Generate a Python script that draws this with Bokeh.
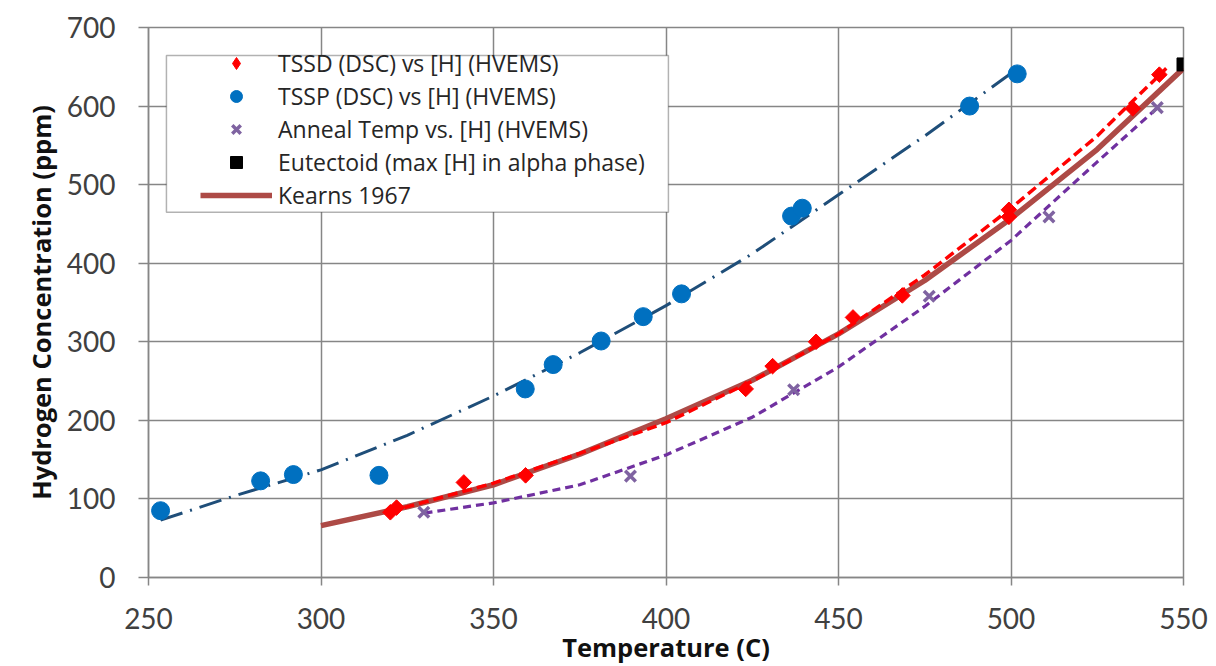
import numpy as np
from bokeh.plotting import figure
from bokeh.models import Legend, LegendItem, BoxAnnotation, FixedTicker, Range1d
from bokeh.embed import file_html
from bokeh.resources import INLINE

# ---------------- data ----------------
tssd_t = [320.1, 321.9, 341.4, 359.3, 423.1, 430.9, 443.5, 454.2, 468.5, 499.4, 499.4, 535.3, 543.0]
tssd_h = [83, 89, 121, 130, 240, 269, 300, 331, 359, 468, 459, 597, 640]

tssp_t = [253.5, 282.5, 292.0, 316.8, 359.2, 367.3, 381.2, 393.4, 404.5, 436.4, 439.5, 488.0, 501.8]
tssp_h = [85, 123, 131, 130, 240, 271, 301, 332, 361, 460, 470, 600, 641]

anneal_t = [329.8, 389.7, 437.0, 476.3, 511.0, 542.4]
anneal_h = [83, 129, 239, 358, 459, 598]

eutectoid_t = [550]
eutectoid_h = [653]

kearns_t = [300, 325, 350, 375, 400, 425, 450, 475, 500, 525, 550]
kearns_h = [66, 90, 118, 157, 202, 251, 310, 378, 457, 545, 648]

tssd_fit_t = [320, 350, 375, 400, 425, 450, 475, 500, 525, 545]
tssd_fit_h = [84, 120, 158, 197, 250, 310, 385, 470, 562, 648]

anneal_fit_t = [330, 350, 375, 400, 425, 450, 475, 500, 525, 543]
anneal_fit_h = [82, 95, 118, 156, 204, 268, 345, 429, 529, 600]

tssp_fit_t = [253.5, 275, 300, 325, 350, 375, 400, 425, 450, 475, 502]
tssp_fit_h = [73, 104, 137, 181, 231, 286, 346, 412, 487, 562, 648]

x_ticks = [250, 300, 350, 400, 450, 500, 550]
y_ticks = [0, 100, 200, 300, 400, 500, 600, 700]

labels = {
    "tssd": "TSSD (DSC) vs [H] (HVEMS)",
    "tssp": "TSSP (DSC) vs [H] (HVEMS)",
    "anneal": "Anneal Temp vs. [H] (HVEMS)",
    "eut": "Eutectoid (max [H] in alpha phase)",
    "kearns": "Kearns 1967",
}
x_title = "Temperature (C)"
y_title = "Hydrogen Concentration (ppm)"

# ---------------- styles ----------------
TICK_FONT = "Lato"
TEXT_FONT = "Open Sans"
GRID = "#868686"

p = figure(width=1216, height=666, output_backend="svg", toolbar_location=None,
           x_range=Range1d(250, 550), y_range=Range1d(0, 700),
           min_border_left=148, min_border_right=33, min_border_top=27,
           min_border_bottom=89)
p.background_fill_color = "white"
p.border_fill_color = "white"
p.outline_line_color = GRID
p.outline_line_width = 1.5

p.xaxis.ticker = FixedTicker(ticks=x_ticks)
p.yaxis.ticker = FixedTicker(ticks=y_ticks)
p.xgrid.ticker = FixedTicker(ticks=x_ticks)
p.ygrid.ticker = FixedTicker(ticks=y_ticks)
p.grid.grid_line_color = GRID
p.grid.grid_line_width = 1.5

for ax in (p.xaxis, p.yaxis):
    ax.axis_line_color = GRID
    ax.axis_line_width = 1.5
    ax.major_tick_line_color = GRID
    ax.major_tick_line_width = 1.5
    ax.major_tick_in = 0
    ax.minor_tick_line_color = None
    ax.major_label_text_font = TICK_FONT
    ax.major_label_text_font_size = "28px"
    ax.major_label_text_color = "#404040"
    ax.axis_label_text_font = TEXT_FONT
    ax.axis_label_text_font_style = "bold"
    ax.axis_label_text_font_size = "25.5px"
    ax.axis_label_text_color = "#111111"
p.yaxis.major_tick_out = 10
p.yaxis.major_label_standoff = 23
p.xaxis.major_tick_out = 8
p.xaxis.major_label_standoff = 22
p.xaxis.axis_label = x_title
p.yaxis.axis_label = y_title
p.xaxis.axis_label_standoff = -2
p.yaxis.axis_label_standoff = 6

# trend lines
p.line(tssp_fit_t, tssp_fit_h, line_color="#1f4e79", line_width=3, line_dash="23 8 2 8")
p.line(anneal_fit_t, anneal_fit_h, line_color="#7030a0", line_width=3.2, line_dash="8 5")
r_kearns = p.line(kearns_t, kearns_h, line_color="#ad4a46", line_width=5.5)
p.line(tssd_fit_t, tssd_fit_h, line_color="#ff0000", line_width=3.5, line_dash="10 5")

# markers
r_tssp = p.scatter(tssp_t, tssp_h, marker="circle", size=18, fill_color="#0070c0", line_color="#0070c0")
# diamond glyph (used for the legend key), drawn underneath the rotated squares
r_tssd_key = p.scatter(tssd_t, tssd_h, marker="diamond", size=13, fill_color="#ff0000", line_color="#ff0000")
p.scatter(tssd_t, tssd_h, marker="square", angle=np.pi / 4, size=11,
          fill_color="#ff0000", line_color="#ff0000")
r_anneal = p.scatter(anneal_t, anneal_h, marker="x", size=15, line_color="#7f63a1", line_width=3.5)
r_eut = p.scatter(eutectoid_t, eutectoid_h, marker="square", size=13, fill_color="black", line_color="black")

# legend box + legend
p.add_layout(BoxAnnotation(left=255.2, right=400.7, top=664.4, bottom=465,
                           fill_color="white", fill_alpha=1, line_color="black", line_width=1.5))
legend = Legend(items=[
    LegendItem(label=labels["tssd"], renderers=[r_tssd_key]),
    LegendItem(label=labels["tssp"], renderers=[r_tssp]),
    LegendItem(label=labels["anneal"], renderers=[r_anneal]),
    LegendItem(label=labels["eut"], renderers=[r_eut]),
    LegendItem(label=labels["kearns"], renderers=[r_kearns]),
], location=(48, 362), glyph_width=72, glyph_height=30, label_height=30, spacing=1,
   padding=4, label_standoff=6, border_line_alpha=0, background_fill_alpha=0,
   label_text_font=TEXT_FONT, label_text_font_size="23px", label_text_color="#262626")
p.add_layout(legend)

open("out.html", "w").write(file_html(p, INLINE))
